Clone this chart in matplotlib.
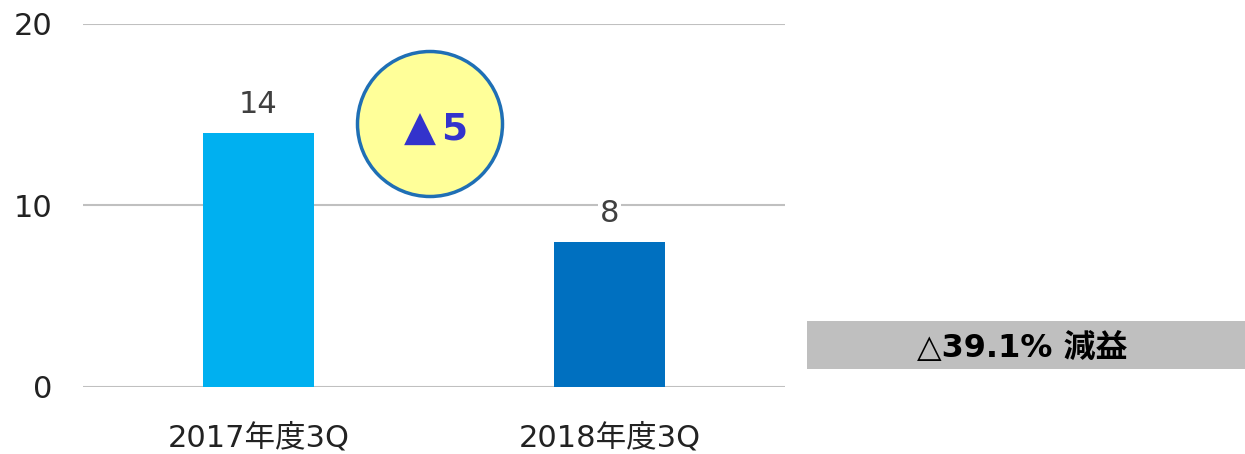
import matplotlib.pyplot as plt
from matplotlib.patches import Ellipse, Rectangle

categories = ['2017年度3Q', '2018年度3Q']
values = [14, 8]
bar_colors = ['#00B0F0', '#0070C0']
yticks = [0, 10, 20]
diff_mark = '▲'
diff_value = '5'
change_label = '△39.1% 減益'

FONTS = ['DejaVu Sans', 'Noto Sans CJK JP']
plt.rcParams['font.family'] = FONTS

W, H = 1245, 454
fig = plt.figure(figsize=(W / 100, H / 100), dpi=100)
ax = fig.add_axes([83 / W, 67 / H, 702 / W, 363 / H])

x = list(range(len(categories)))
ax.bar(x, values, width=0.316, color=bar_colors, zorder=3)
ax.set_xlim(-0.5, 1.5)
ax.set_ylim(0, 20)
ax.set_yticks(yticks)
ax.set_yticklabels([str(t) for t in yticks], fontsize=22, color='#222222')
ax.set_xticks(x)
ax.set_xticklabels(categories, fontsize=22, color='#222222')
ax.tick_params(length=0)
ax.tick_params(axis='y', pad=22)
ax.tick_params(axis='x', pad=26)
ax.grid(axis='y', color='#C0C0C0', linewidth=1.5, zorder=0)
for s in ax.spines.values():
    s.set_visible(False)

for xi, v in zip(x, values):
    ax.annotate(str(v), (xi, v), xytext=(0, 14.5), textcoords='offset points',
                ha='center', va='baseline', fontsize=22, color='#404040',
                bbox=dict(facecolor='white', edgecolor='none', pad=1), zorder=4)

# difference bubble
circ = Ellipse((430 / W, 1 - 124 / H), 145 / W, 145 / H, transform=fig.transFigure,
               facecolor='#FFFF99', edgecolor='#1F6FB5', linewidth=2.5, zorder=5)
fig.add_artist(circ)
fig.text(420 / W, 1 - 141 / H, diff_mark, ha='center', va='baseline', fontsize=30,
         color='#3333CC', zorder=6)
fig.text(454 / W, 1 - 140 / H, diff_value, ha='center', va='baseline', fontsize=27,
         fontweight='bold', color='#3333CC', zorder=6)

# change box
box = Rectangle((807 / W, 1 - 369 / H), (W - 807) / W, 48 / H, transform=fig.transFigure,
                facecolor='#BFBFBF', edgecolor='none')
fig.add_artist(box)
fig.text(1022 / W, 1 - 357 / H, change_label, ha='center', va='baseline', fontsize=23,
         fontweight='bold', color='black')

fig.savefig('out.png', dpi=100, facecolor='white')
